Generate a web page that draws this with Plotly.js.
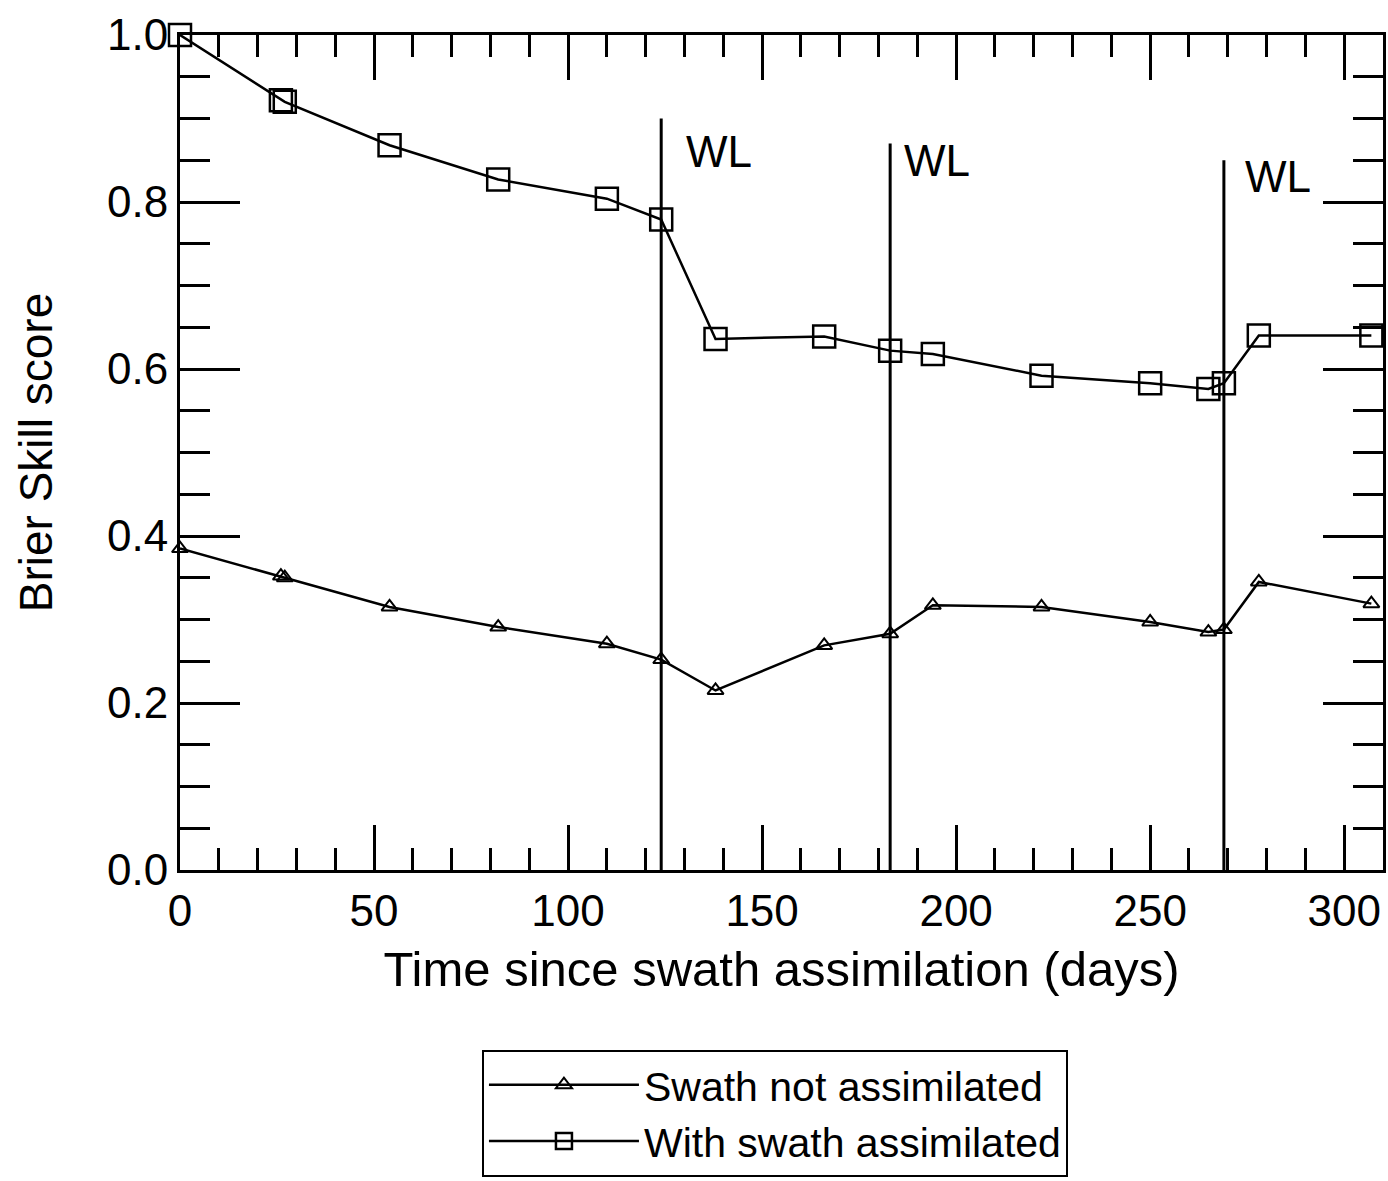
<!DOCTYPE html>
<html>
<head>
<meta charset="utf-8">
<script src="https://cdn.plot.ly/plotly-3.0.1.min.js"></script>
<style>html,body{margin:0;padding:0;background:#fff;}#chart{width:1388px;height:1181px;}</style>
</head>
<body>
<div id="chart"></div>
<script>
// Days since swath assimilation
const days = [0, 26, 27, 54, 82, 110, 124, 138, 166, 183, 194, 222, 250, 265, 269, 278, 307];
// Brier Skill score, swath not assimilated (triangles)
const bssNotAssim = [0.385, 0.352, 0.350, 0.315, 0.291, 0.271, 0.252, 0.215, 0.269, 0.283, 0.317, 0.315, 0.297, 0.285, 0.288, 0.345, 0.319];
// Brier Skill score, with swath assimilated (squares)
const bssAssim = [1.0, 0.922, 0.920, 0.868, 0.827, 0.804, 0.779, 0.636, 0.639, 0.622, 0.618, 0.592, 0.583, 0.576, 0.583, 0.640, 0.640];
// WL event markers
const wlDays = [124, 183, 269];
const wlTop = [0.90, 0.87, 0.85];
const wlLabelX = [130, 186, 274];
const wlLabelY = [0.86, 0.85, 0.83];
const wlText = ["WL", "WL", "WL"];
const seriesNames = ["Swath not assimilated", "With swath assimilated"];

const FONT = "Liberation Sans, Arial, Helvetica, sans-serif";

const traces = [
  {
    x: days, y: bssNotAssim, name: seriesNames[0], type: "scatter", mode: "lines+markers",
    line: {color: "#000", width: 2.5},
    marker: {symbol: "triangle-up-open", size: 14, color: "#000", line: {width: 2, color: "#000"}},
    cliponaxis: false
  },
  {
    x: days, y: bssAssim, name: seriesNames[1], type: "scatter", mode: "lines+markers",
    line: {color: "#000", width: 2.5},
    marker: {symbol: "square-open", size: 22, color: "#000", line: {width: 2.5, color: "#000"}},
    cliponaxis: false
  }
];

const shapes = wlDays.map((d, i) => ({
  type: "line", xref: "x", yref: "y", x0: d, x1: d, y0: 0, y1: wlTop[i],
  line: {color: "#000", width: 3}
}));

const annotations = wlDays.map((d, i) => ({
  x: wlLabelX[i], y: wlLabelY[i], xref: "x", yref: "y", text: wlText[i],
  showarrow: false, xanchor: "left", yanchor: "middle",
  font: {family: FONT, size: 44, color: "#000"}
}));

const layout = {
  width: 1388, height: 1181,
  margin: {l: 180, r: 5, t: 35, b: 309},
  paper_bgcolor: "#fff", plot_bgcolor: "#fff",
  font: {family: FONT, color: "#000"},
  showlegend: true,
  legend: {
    x: 0.251, y: -0.215, xanchor: "left", yanchor: "top",
    bordercolor: "#000", borderwidth: 2, bgcolor: "#fff",
    font: {family: FONT, size: 41, color: "#000"},
    itemwidth: 150, traceorder: "normal"
  },
  xaxis: {
    range: [0, 310], dtick: 50, tick0: 0,
    ticks: "inside", ticklen: 45, tickwidth: 3, tickcolor: "#000",
    minor: {dtick: 10, ticks: "inside", ticklen: 22, tickwidth: 3, tickcolor: "#000"},
    showline: true, linewidth: 3, linecolor: "#000", mirror: "allticks",
    showgrid: false, zeroline: false,
    tickfont: {family: FONT, size: 44, color: "#000"},
    title: {text: "Time since swath assimilation (days)", font: {family: FONT, size: 49, color: "#000"}, standoff: 18},
    automargin: false
  },
  yaxis: {
    range: [0, 1], dtick: 0.2, tick0: 0, tickformat: ".1f",
    ticks: "inside", ticklen: 60, tickwidth: 3, tickcolor: "#000",
    minor: {dtick: 0.05, ticks: "inside", ticklen: 30, tickwidth: 3, tickcolor: "#000"},
    showline: true, linewidth: 3, linecolor: "#000", mirror: "allticks",
    showgrid: false, zeroline: false,
    tickfont: {family: FONT, size: 44, color: "#000"},
    title: {text: "Brier Skill score", font: {family: FONT, size: 46, color: "#000"}, standoff: 40},
    automargin: false
  },
  shapes: shapes,
  annotations: annotations
};

Plotly.newPlot("chart", traces, layout, {displayModeBar: false, staticPlot: true});
</script>
</body>
</html>
